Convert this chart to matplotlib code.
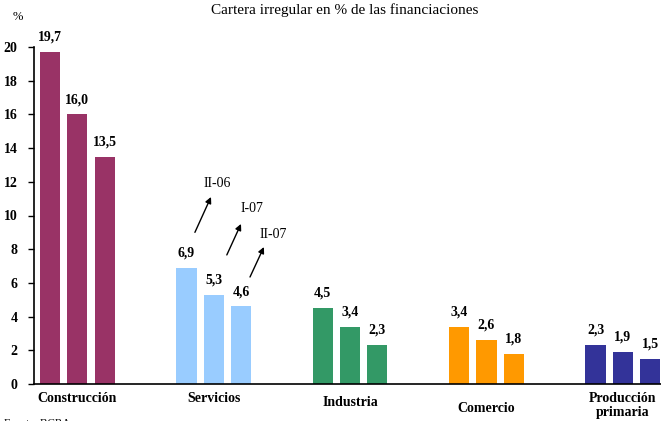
import numpy as np
import matplotlib
matplotlib.use("Agg")
import matplotlib.pyplot as plt

plt.rcParams['font.family'] = ['Liberation Serif', 'DejaVu Serif']

# data
sectores = ["Construcción", "Servicios", "Industria", "Comercio", "Producción\nprimaria"]
valores = [
    [19.7, 16.0, 13.5],
    [6.9, 5.3, 4.6],
    [4.5, 3.4, 2.3],
    [3.4, 2.6, 1.8],
    [2.3, 1.9, 1.5],
]
colores = ["#993366", "#99CCFF", "#339966", "#FF9900", "#333399"]
periodos = ["II-06", "I-07", "II-07"]
label_drop = [0, 0, 3, 7, 0]  # extra px offset of x labels

fig = plt.figure(figsize=(6.61, 4.21), dpi=100)
ax = fig.add_axes([34 / 661, 1 - 384 / 421, 1 - 34 / 661, (384 - 47) / 421])

gap = 5.0
for i, (vals, col) in enumerate(zip(valores, colores)):
    xs = i * gap + np.arange(3)
    ax.bar(xs, vals, width=0.74, color=col)
    for x, v in zip(xs, vals):
        ax.annotate(f"{v:.1f}".replace(".", ","), (x, v), xytext=(0, 6),
                    textcoords="offset points", ha="center", va="bottom",
                    fontsize=10, fontweight="bold")
    ax.annotate(sectores[i], (i * gap + 1, 0), xytext=(0, -6 - label_drop[i]),
                textcoords="offset points", ha="center", va="top",
                fontsize=10, fontweight="bold", linespacing=1.1,
                annotation_clip=False)

# period arrows over Servicios
arr_tail = [(5.31, 9.0), (6.48, 7.66), (7.33, 6.35)]
arr_head = [(5.90, 11.1), (7.0, 9.5), (7.84, 8.13)]
txt_pos = [(6.12, 11.9), (7.40, 10.4), (8.17, 8.85)]
for p, t, h, tp in zip(periodos, arr_tail, arr_head, txt_pos):
    ax.annotate("", xy=h, xytext=t,
                arrowprops=dict(arrowstyle="-|>", color="black", lw=1.0,
                                mutation_scale=9, shrinkA=0, shrinkB=0))
    ax.text(tp[0], tp[1], p, ha="center", va="center", fontsize=10)

ax.set_xlim(-0.59, 22.4)
ax.set_ylim(0, 20)
ax.set_yticks(range(0, 21, 2))
ax.set_xticks([])
ax.tick_params(axis="y", direction="out", length=4, width=1, pad=8)
for lab in ax.get_yticklabels():
    lab.set_fontweight("bold")
    lab.set_fontsize(10)
ax.spines["top"].set_visible(False)
ax.spines["right"].set_visible(False)
ax.spines["left"].set_linewidth(1.2)
ax.spines["bottom"].set_linewidth(1.2)

fig.text(345 / 661, 1 - 10 / 421, "Cartera irregular en % de las financiaciones",
         ha="center", va="center", fontsize=11)
fig.text(18 / 661, 1 - 17 / 421, "%", ha="center", va="center", fontsize=9)
fig.text(4 / 661, 1 - 423 / 421, "Fuente: BCRA", ha="left", va="center", fontsize=8)

fig.savefig("out.png", dpi=100)
